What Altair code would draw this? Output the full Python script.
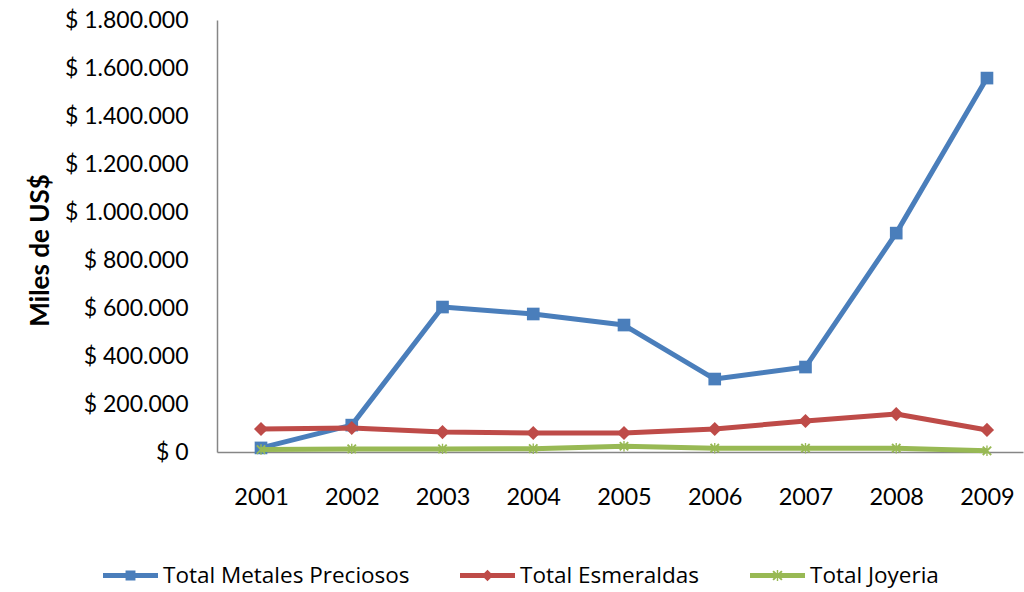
import altair as alt
import pandas as pd

# Exportaciones anuales (miles de US$)
years = [2001, 2002, 2003, 2004, 2005, 2006, 2007, 2008, 2009]
series = ["Total Metales Preciosos", "Total Esmeraldas", "Total Joyeria"]
metales = [17000, 112000, 604000, 575000, 529000, 304000, 354000, 912000, 1558000]
esmeraldas = [96000, 100000, 83000, 79000, 79000, 96000, 129000, 158000, 92000]
joyeria = [10000, 13000, 13000, 14000, 24000, 16000, 16000, 16000, 5000]
y_ticks = [0, 200000, 400000, 600000, 800000, 1000000, 1200000, 1400000, 1600000, 1800000]

colors = ["#4A7EBB", "#BE4B48", "#98B954"]
FONT = "Lato"

rows = []
for name, vals in zip(series, [metales, esmeraldas, joyeria]):
    for yr, v in zip(years, vals):
        rows.append({"anio": yr, "serie": name, "valor": v})
df = pd.DataFrame(rows)


def rect(x0, y0, x1, y1):
    return f"M{x0},{y0}L{x1},{y0}L{x1},{y1}L{x0},{y1}Z"


def asterisk(s):
    # three bars (two diagonals + vertical), all wound the same way
    a, b, t = 0.673 * s, 0.927 * s, 0.13 * s
    d1 = f"M{-a},{-b}L{b},{a}L{a},{b}L{-b},{-a}Z"
    d2 = f"M{a},{-b}L{b},{-a}L{-a},{b}L{-b},{a}Z"
    return d1 + d2 + rect(-t, -s, t, s)


square_m = rect(-1, -1, 1, 1)
diamond_m = "M0,-1L1,0L0,1L-1,0Z"
star_m = asterisk(1)

# legend symbols: a line segment with the series marker in the middle
bar = rect(-1, -0.09, 1, 0.09)
legend_paths = [
    bar + rect(-0.18, -0.18, 0.18, 0.18),
    bar + "M0,-0.21L0.21,0L0,0.21L-0.21,0Z",
    bar + asterisk(0.2),
]

color_scale = alt.Scale(domain=series, range=colors)
legend = alt.Legend(
    title=None,
    orient="none",
    legendX=-114,
    legendY=528,
    direction="horizontal",
    columns=3,
    columnPadding=50,
    labelFont="Open Sans",
    labelFontSize=22.5,
    labelColor="#000000",
    labelOffset=5,
    labelLimit=400,
    symbolSize=3025,
    symbolStrokeWidth=0,
    symbolOpacity=1,
)

x_enc = alt.X(
    "anio:Q",
    scale=alt.Scale(domain=[2000.515, 2009.397], nice=False, zero=False),
    axis=alt.Axis(
        values=years,
        format="d",
        title=None,
        grid=False,
        ticks=False,
        tickSize=0,
        labelPadding=33,
        labelFont=FONT,
        labelFontSize=23.5,
        labelColor="#000000",
        domainColor="#868686",
        domainWidth=1.5,
    ),
)
y_enc = alt.Y(
    "valor:Q",
    scale=alt.Scale(domain=[0, 1800000], nice=False),
    axis=alt.Axis(
        values=y_ticks,
        labelExpr="'$ ' + replace(replace(format(datum.value, ',d'), ',', '.'), ',', '.')",
        title="Miles de US$",
        titleFont=FONT,
        titleFontSize=26,
        titleFontWeight="bold",
        titleColor="#000000",
        titleX=-177,
        titleY=230,
        titleAlign="center",
        titleBaseline="middle",
        grid=False,
        ticks=False,
        tickSize=0,
        labelPadding=29,
        labelFont=FONT,
        labelFontSize=23,
        labelColor="#000000",
        domainColor="#868686",
        domainWidth=1.5,
    ),
)
color_enc = alt.Color("serie:N", scale=color_scale, legend=legend)

layers = []
marker_shapes = [square_m, diamond_m, star_m]
marker_sizes = [160, 200, 110]
for name, shp, sz in zip(series, marker_shapes, marker_sizes):
    base = alt.Chart(df).transform_filter(alt.datum.serie == name)
    layers.append(
        base.mark_line(strokeWidth=5, strokeJoin="round").encode(x=x_enc, y=y_enc, color=color_enc)
    )
    layers.append(
        base.mark_point(shape=shp, size=sz, filled=True, opacity=1).encode(x=x_enc, y=y_enc, color=color_enc)
    )

# legend-only layer: no rows pass the filter, symbols come from the scale domain
legend_layer = (
    alt.Chart(df)
    .transform_filter(alt.datum.valor < 0)
    .mark_point(filled=True, size=3025, opacity=1)
    .encode(
        x=x_enc,
        y=y_enc,
        color=color_enc,
        shape=alt.Shape("serie:N", scale=alt.Scale(domain=series, range=legend_paths), legend=legend),
    )
)
layers.append(legend_layer)

chart = (
    alt.layer(*layers)
    .properties(
        width=806,
        height=432,
        autosize=alt.AutoSizeParams(type="none"),
        padding={"left": 217, "top": 20, "right": 1, "bottom": 140},
        background="#ffffff",
    )
    .configure_view(stroke=None)
)

chart.save("out.html", embed_options={"renderer": "svg", "actions": False})
